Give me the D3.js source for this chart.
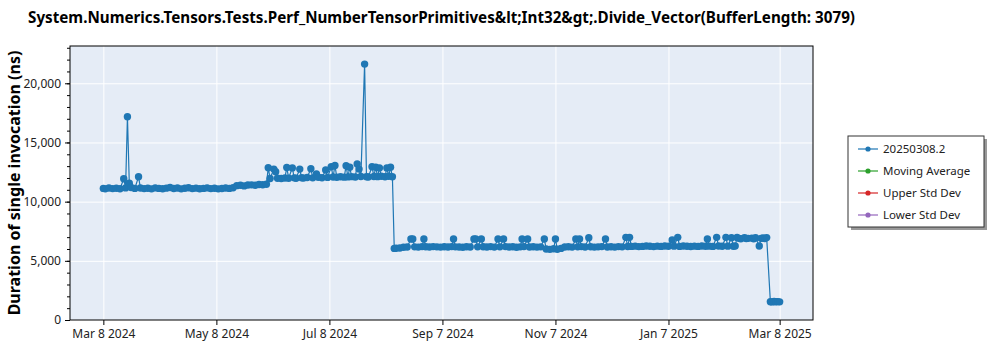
<!DOCTYPE html>
<html>
<head>
  <meta charset="utf-8">
  <title>Divide_Vector perf history</title>
  <style>
    body { margin: 0; background: #fff; }
    text { font-family: "Segoe UI", "Noto Sans", sans-serif; }
    .grid line { stroke: #fff; stroke-width: 1; }
    .axis path { display: none; }
    .axis line { stroke: #000; }
    .axis text { font-size: 12px; fill: #222; }
  </style>
  <script src="https://cdn.jsdelivr.net/npm/d3@7"></script>
</head>
<body>
<script>
// run dates, as days after the first run (Mar 8 2024)
var startDate = "2024-03-08";
var dayOffsets = [
  0, 1, 3, 5, 7, 9, 11, 12, 13, 14, 15, 17, 19, 20, 22, 24, 26, 28, 30, 32,
  34, 36, 38, 40, 42, 44, 46, 48, 50, 52, 54, 56, 58, 60, 62, 64, 66, 68, 70,
  72, 74, 76, 78, 80, 82, 84, 86, 88,
  89, 90, 92, 93, 94, 96, 98, 99, 100, 102, 103, 104, 106, 107, 108, 110, 112,
  113, 115, 116, 118, 120, 121, 123, 124, 125, 126, 128, 130, 131, 132, 133,
  134, 136, 137, 138, 139, 141, 142, 143, 145, 146, 147, 148, 149, 150, 152,
  153, 154, 155, 156,
  157, 158, 160, 162, 164, 166, 167, 168, 170, 172, 173, 174, 176, 178, 180,
  182, 184, 186, 188, 189, 190, 192, 194, 196, 198, 200, 201, 202, 204, 205,
  207, 209, 211, 213, 214, 216, 217, 219, 221, 223, 225, 226, 227, 229, 230,
  232, 234, 236, 238, 239, 241, 243, 244, 245, 247, 249, 251, 253, 255, 256,
  257, 258, 260, 262, 263, 265, 267, 269, 271, 272, 274, 276, 278, 280, 282,
  283, 284, 285, 287, 289, 291, 293, 295, 297, 299, 301, 303, 305, 307, 308,
  310, 311, 313, 315, 317, 319, 321, 323, 325, 326, 327, 329, 331, 332, 334,
  336, 337, 339, 340, 341,
  342, 343, 344, 346, 347, 348, 350, 351, 352, 354, 355, 356, 357, 358,
  360, 361, 362, 363, 364, 365
];
// duration of single invocation (ns), one per run
var durations = [
  11120, 11080, 11150, 11100, 11130, 11090, 11930, 11160, 17170, 11560, 11200,
  11120, 12100, 11150, 11100, 11130, 11080, 11160, 11120, 11090, 11140, 11200,
  11110, 11150, 11080, 11130, 11170, 11100, 11140, 11090, 11120, 11160, 11100,
  11130, 11080, 11110, 11150, 11120, 11180, 11350, 11380, 11330, 11400, 11420,
  11380, 11450, 11430, 11470,
  12860, 11960, 12750, 12520, 11980, 11950, 12000, 12890, 11980, 12850, 12010,
  11970, 12750, 12020, 11990, 12040, 12780, 12010, 12330, 12060, 12020, 12670,
  12050, 12950, 12080, 13060, 12060, 12100, 12070, 13030, 12090, 12900, 12110,
  12080, 13180, 12750, 12120, 21620, 12100, 12080, 12950, 12130, 12900, 12110,
  12850, 12140, 12100, 12850, 12150, 12900, 12100,
  6050, 6060, 6080, 6150, 6170, 6840, 6840, 6180, 6160, 6200, 6840, 6190, 6170,
  6200, 6180, 6160, 6190, 6170, 6200, 6840, 6180, 6170, 6150, 6190, 6170, 6840,
  6840, 6180, 6840, 6190, 6170, 6200, 6160, 6840, 6180, 6840, 6200, 6170, 6190,
  6150, 6180, 6840, 6200, 6840, 6170, 6190, 6160, 6180, 6840, 6000, 5970, 6020,
  6840, 5980, 6050, 6170, 6190, 6160, 6840, 6180, 6840, 6200, 6170, 6950, 6190,
  6160, 6180, 6200, 6840, 6170, 6190, 6160, 6200, 6180, 6985, 6210, 6985, 6220,
  6240, 6200, 6220, 6250, 6230, 6200, 6240, 6220, 6250, 6230, 6760, 6240, 6985,
  6220, 6250, 6230, 6210, 6240, 6220, 6250, 6230, 6840, 6240, 6220, 6985, 6250,
  6230, 6985, 6240, 6950, 6230, 6250,
  6980, 6900, 6870, 6950, 6880, 6900, 6920, 6860, 6950, 6250, 6900, 6930, 6880,
  6960,
  1545, 1530, 1560, 1540, 1550, 1535
];
var tickDates = ["2024-03-08", "2024-05-08", "2024-07-08", "2024-09-07",
                 "2024-11-07", "2025-01-07", "2025-03-08"];
var yTicks = [0, 5000, 10000, 15000, 20000];
var legendNames = ["20250308.2", "Moving Average", "Upper Std Dev", "Lower Std Dev"];
var legendColors = ["#1f77b4", "#2ca02c", "#d62728", "#9467bd"];
var title = "System.Numerics.Tensors.Tests.Perf_NumberTensorPrimitives&lt;Int32&gt;.Divide_Vector(BufferLength: 3079)";

var margin = {top: 46, right: 187, bottom: 30, left: 70},
    width = 1000 - margin.left - margin.right,
    height = 350 - margin.top - margin.bottom;

var parse = d3.timeParse("%Y-%m-%d");
var t0 = parse(startDate);
var data = dayOffsets.map(function(d, i) {
  return {date: d3.timeDay.offset(t0, d), value: durations[i]};
});

var x = d3.scaleTime()
    .domain([parse("2024-02-19"), parse("2025-03-26")])
    .range([0, width]);
var y = d3.scaleLinear()
    .domain([0, 23150])
    .range([height, 0]);

var svg = d3.select("body").append("svg")
    .attr("width", 1000)
    .attr("height", 350);

var g = svg.append("g")
    .attr("transform", "translate(" + margin.left + "," + margin.top + ")");

// plot background
g.append("rect")
    .attr("width", width)
    .attr("height", height)
    .attr("fill", "#e5ecf6");

// grid
g.append("g")
    .attr("class", "grid")
    .attr("transform", "translate(0," + height + ")")
    .call(d3.axisBottom(x).tickValues(tickDates.map(parse)).tickSize(-height).tickFormat(""))
    .select(".domain").remove();
g.append("g")
    .attr("class", "grid")
    .call(d3.axisLeft(y).tickValues(yTicks).tickSize(-width).tickFormat(""))
    .select(".domain").remove();

// series line + markers
var series = g.append("g");
series.append("path")
    .datum(data)
    .attr("fill", "none")
    .attr("stroke", "#1f77b4")
    .attr("stroke-width", 1.2)
    .attr("d", d3.line()
        .x(function(d) { return x(d.date); })
        .y(function(d) { return y(d.value); }));
series.selectAll(".pt")
    .data(data)
    .enter().append("circle")
    .attr("class", "pt")
    .attr("cx", function(d) { return x(d.date); })
    .attr("cy", function(d) { return y(d.value); })
    .attr("r", 3.7)
    .attr("fill", "#1f77b4");

// frame
g.append("rect")
    .attr("width", width)
    .attr("height", height)
    .attr("fill", "none")
    .attr("stroke", "#000")
    .attr("stroke-width", 1);

// x axis
g.append("g")
    .attr("class", "axis")
    .attr("transform", "translate(0," + height + ")")
    .call(d3.axisBottom(x)
        .tickValues(tickDates.map(parse))
        .tickSize(5)
        .tickPadding(4)
        .tickFormat(d3.timeFormat("%b %-d %Y")));

// y axis, major and minor ticks
g.append("g")
    .attr("class", "axis")
    .call(d3.axisLeft(y).tickValues(d3.range(0, 23001, 1000)).tickSize(3).tickFormat(""));
g.append("g")
    .attr("class", "axis")
    .call(d3.axisLeft(y)
        .tickValues(yTicks)
        .tickSize(5)
        .tickPadding(4)
        .tickFormat(d3.format(",")));

// title
svg.append("text")
    .attr("x", margin.left + width / 2)
    .attr("y", 23)
    .attr("text-anchor", "middle")
    .style("font-size", "15.2px")
    .style("font-weight", "bold")
    .text(title);

// y label
svg.append("text")
    .attr("transform", "translate(20," + (margin.top + height / 2) + ") rotate(-90)")
    .attr("text-anchor", "middle")
    .style("font-size", "16px")
    .style("font-weight", "bold")
    .text("Duration of single invocation (ns)");

// legend
var lg = svg.append("g").attr("transform", "translate(848,136)");
lg.append("rect")
    .attr("x", 3).attr("y", 3)
    .attr("width", 136).attr("height", 91)
    .attr("fill", "#999");
lg.append("rect")
    .attr("width", 136).attr("height", 91)
    .attr("fill", "#fff")
    .attr("stroke", "#333");
var item = lg.selectAll(".item")
    .data(legendNames)
    .enter().append("g")
    .attr("transform", function(d, i) { return "translate(0," + (13 + i * 22) + ")"; });
item.append("line")
    .attr("x1", 10).attr("x2", 30)
    .attr("stroke", function(d, i) { return legendColors[i]; })
    .attr("stroke-width", 1.2);
item.append("circle")
    .attr("cx", 20).attr("r", 2.6)
    .attr("fill", function(d, i) { return legendColors[i]; });
item.append("text")
    .attr("x", 35)
    .attr("dy", "0.35em")
    .style("font-size", "11.5px")
    .style("fill", "#222")
    .text(function(d) { return d; });
</script>
</body>
</html>
